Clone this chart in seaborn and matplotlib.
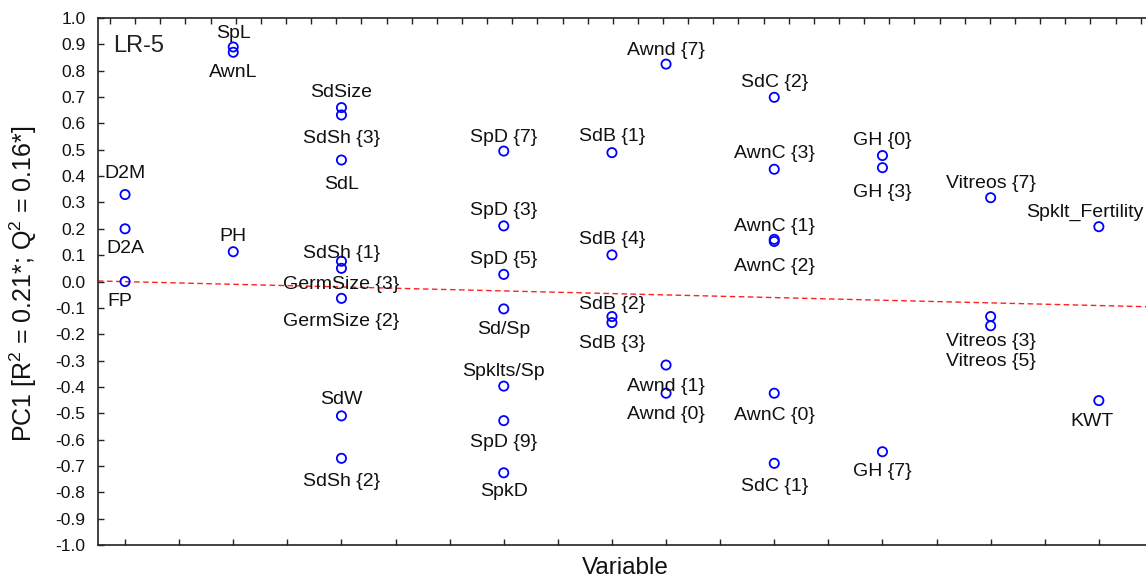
import numpy as np
import pandas as pd
import matplotlib
matplotlib.use("Agg")
import matplotlib.pyplot as plt
import seaborn as sns

# ---------------- data ----------------
variables = ["D2M", "D2A", "FP",
             "SpL", "AwnL", "PH",
             "SdSize", "SdSh {3}", "SdL", "SdSh {1}", "GermSize {3}", "GermSize {2}", "SdW", "SdSh {2}",
             "SpD {7}", "SpD {3}", "SpD {5}", "Sd/Sp", "Spklts/Sp", "SpD {9}", "SpkD",
             "SdB {1}", "SdB {4}", "SdB {2}", "SdB {3}",
             "Awnd {7}", "Awnd {1}", "Awnd {0}",
             "SdC {2}", "AwnC {3}", "AwnC {1}", "AwnC {2}", "AwnC {0}", "SdC {1}",
             "GH {0}", "GH {3}", "GH {7}",
             "Vitreos {7}", "Vitreos {3}", "Vitreos {5}",
             "Spklt_Fertility", "KWT"]

variable_slot = [0, 0, 0,
                 2, 2, 2,
                 4, 4, 4, 4, 4, 4, 4, 4,
                 7, 7, 7, 7, 7, 7, 7,
                 9, 9, 9, 9,
                 10, 10, 10,
                 12, 12, 12, 12, 12, 12,
                 14, 14, 14,
                 16, 16, 16,
                 18, 18]

pc1 = [0.33, 0.20, 0.00,
       0.89, 0.87, 0.113,
       0.66, 0.632, 0.461, 0.077, 0.050, -0.064, -0.510, -0.671,
       0.495, 0.211, 0.027, -0.104, -0.397, -0.528, -0.726,
       0.489, 0.101, -0.133, -0.156,
       0.825, -0.317, -0.424,
       0.699, 0.426, 0.160, 0.152, -0.424, -0.690,
       0.478, 0.432, -0.646,
       0.318, -0.133, -0.168,
       0.208, -0.452]

# fitted reference line (PC1 vs variable slot)
fit_intercept = -0.0005
fit_slope = -0.00504

y_ticks = [-1.0, -0.9, -0.8, -0.7, -0.6, -0.5, -0.4, -0.3, -0.2, -0.1,
           0.0, 0.1, 0.2, 0.3, 0.4, 0.5, 0.6, 0.7, 0.8, 0.9, 1.0]
y_tick_labels = ["-1.0", "-0.9", "-0.8", "-0.7", "-0.6", "-0.5", "-0.4", "-0.3", "-0.2", "-0.1",
                 "0.0", "0.1", "0.2", "0.3", "0.4", "0.5", "0.6", "0.7", "0.8", "0.9", "1.0"]

# ---------------- layout (label offsets in pixels, + = downward) ----------------
label_dy = [-23, 18, 18,
            -15, 18, -17,
            -17, 22, 22, -10, 14, 21, -18, 21,
            -16, -17, -17, 19, -17, 20, 17,
            -18, -17, -14, 19,
            -16, 19, 19,
            -17, -18, -15, 23, 20, 21,
            -17, 23, 18,
            -16, 23, 34,
            -16, 19]
label_dx = [0, 0, -5,
            0, 0, 0,
            0, 0, 0, 0, 0, 0, 0, 0,
            0, 0, 0, 0, 0, 0, 0,
            0, 0, 0, 0,
            0, 0, 0,
            0, 0, 0, 0, 0, 0,
            0, 0, 0,
            0, 0, 0,
            -14, -7]

df = pd.DataFrame({"variable": variables, "slot": variable_slot, "pc1": pc1})

sns.set_style("white")
plt.rcParams["font.family"] = ["Liberation Sans", "DejaVu Sans"]
plt.rcParams["mathtext.fontset"] = "custom"
plt.rcParams["mathtext.rm"] = "Liberation Sans"
plt.rcParams["mathtext.it"] = "Liberation Sans:italic"
plt.rcParams["mathtext.bf"] = "Liberation Sans:bold"
plt.rcParams["axes.unicode_minus"] = False

W, H = 1146, 584
fig = plt.figure(figsize=(W / 100, H / 100), dpi=100)
ax_left, ax_right, ax_top, ax_bottom = 98, 1146, 18, 545
ax = fig.add_axes([ax_left / W, 1 - ax_bottom / H, (ax_right - ax_left) / W, (ax_bottom - ax_top) / H])

px_per_slot = 54.1
x_min = -0.5
x_max = x_min + (ax_right - ax_left) / px_per_slot

# regression line
xl = np.array([x_min, x_max])
ax.plot(xl, fit_intercept + fit_slope * xl, color="#ff2020", lw=1.0,
        linestyle=(0, (4, 2.5)), zorder=1)

sns.scatterplot(data=df, x="slot", y="pc1", ax=ax, marker="o", s=44,
                facecolor="none", edgecolor="#0000ff", linewidth=1.3, zorder=3,
                legend=False)

for name, xs, ys, dy, dx in zip(variables, variable_slot, pc1, label_dy, label_dx):
    ax.annotate(name, (xs, ys), xytext=(dx * 0.72, -dy * 0.72), textcoords="offset points",
                ha="center", va="center_baseline", fontsize=14, color="#111111", zorder=4)

ax.set_xlim(x_min, x_max)
ax.set_ylim(-1.0, 1.0)
ax.set_xticks(list(range(0, 19)))
ax.set_xticklabels([])
ax.set_yticks(y_ticks)
ax.set_yticklabels(y_tick_labels)
ax.tick_params(axis="both", direction="in", length=4, width=1.0, color="#222222")
ax.tick_params(axis="y", labelsize=12.5, pad=9, labelcolor="#111111")
ax.tick_params(axis="x", bottom=True, top=False)
ax.tick_params(axis="y", left=True, right=False)

for side in ["left", "bottom", "top"]:
    ax.spines[side].set_color("#222222")
    ax.spines[side].set_linewidth(1.2)
ax.spines["right"].set_visible(False)

ax.set_xlabel("Variable", fontsize=17.5, color="#111111")
ax.set_ylabel("PC1 [R$^2$ = 0.21*; Q$^2$ = 0.16*]", fontsize=18, color="#111111")
ax.xaxis.set_label_coords((625 - ax_left) / (ax_right - ax_left), -(557 - ax_bottom) / (ax_bottom - ax_top))
ax.yaxis.set_label_coords((39 - ax_left) / (ax_right - ax_left), (ax_bottom - 284) / (ax_bottom - ax_top))

ax.text((113 - ax_left) / (ax_right - ax_left), (ax_bottom - 43) / (ax_bottom - ax_top), "LR-5",
        transform=ax.transAxes, ha="left", va="center_baseline", fontsize=17, color="#222222")

# top minor tick axis
top = ax.twiny()
top_spacing = 25.14
top_start = 110
top.set_xlim((ax_left - top_start) / top_spacing, (ax_right - top_start) / top_spacing)
top.set_xticks(list(range(0, 42)))
top.set_xticklabels([])
top.tick_params(axis="x", direction="in", length=4, width=1.0, color="#222222", top=True, bottom=False)
for s in top.spines.values():
    s.set_visible(False)

fig.savefig("out.png", dpi=100)
